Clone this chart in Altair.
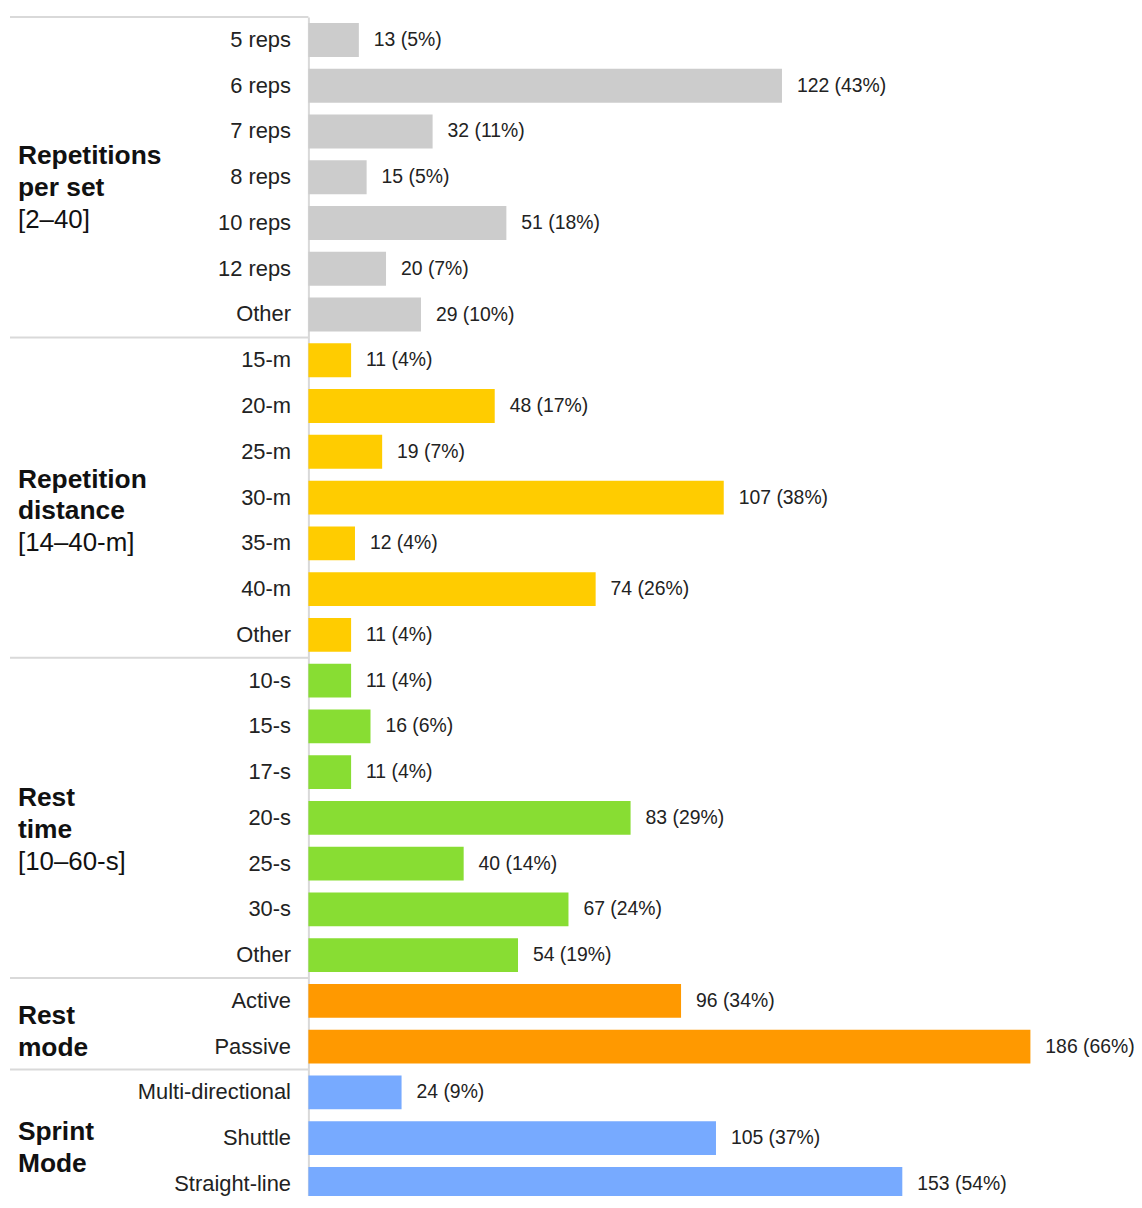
import altair as alt
import pandas as pd

# ---------------- data ----------------
groups = ["Repetitions per set", "Repetition distance", "Rest time", "Rest mode", "Sprint Mode"]
group_title_lines = [["Repetitions", "per set"], ["Repetition", "distance"], ["Rest", "time"],
                     ["Rest", "mode"], ["Sprint", "Mode"]]
group_ranges = ["[2–40]", "[14–40-m]", "[10–60-s]", "", ""]
group_colors = ["#cccccc", "#ffcc00", "#88dd33", "#ff9900", "#77aaff"]

reps_labels = ["5 reps", "6 reps", "7 reps", "8 reps", "10 reps", "12 reps", "Other"]
reps_counts = [13, 122, 32, 15, 51, 20, 29]
reps_pcts = [5, 43, 11, 5, 18, 7, 10]

dist_labels = ["15-m", "20-m", "25-m", "30-m", "35-m", "40-m", "Other"]
dist_counts = [11, 48, 19, 107, 12, 74, 11]
dist_pcts = [4, 17, 7, 38, 4, 26, 4]

rest_labels = ["10-s", "15-s", "17-s", "20-s", "25-s", "30-s", "Other"]
rest_counts = [11, 16, 11, 83, 40, 67, 54]
rest_pcts = [4, 6, 4, 29, 14, 24, 19]

mode_labels = ["Active", "Passive"]
mode_counts = [96, 186]
mode_pcts = [34, 66]

sprint_labels = ["Multi-directional", "Shuttle", "Straight-line"]
sprint_counts = [24, 105, 153]
sprint_pcts = [9, 37, 54]

all_labels = [reps_labels, dist_labels, rest_labels, mode_labels, sprint_labels]
all_counts = [reps_counts, dist_counts, rest_counts, mode_counts, sprint_counts]
all_pcts = [reps_pcts, dist_pcts, rest_pcts, mode_pcts, sprint_pcts]

# layout constants (pixels): vertical nudge of each group's title block
STEP = 46
LINE_H = 32
title_nudge_px = [11, 14, 12, 8, 10]

# ---------------- tables ----------------
rows = []
seps = []
title_rows = []
start = 0
for gi, g in enumerate(groups):
    labs, cnts, pcts = all_labels[gi], all_counts[gi], all_pcts[gi]
    for lab, c, p in zip(labs, cnts, pcts):
        rows.append({"group": g, "key": f"{g}|{lab}", "count": c, "label": f"{c} ({p}%)"})
    n = len(labs)
    seps.append({"pos": start})
    lines = [(t, "bold") for t in group_title_lines[gi]]
    if group_ranges[gi]:
        lines.append((group_ranges[gi], "normal"))
    L = len(lines)
    center = start + n / 2 + title_nudge_px[gi] / STEP
    for j, (t, w) in enumerate(lines):
        title_rows.append({"text": t, "weight": w,
                           "pos": center + (j - (L - 1) / 2) * LINE_H / STEP})
    start += n

N = start
df = pd.DataFrame(rows)
sep_df = pd.DataFrame(seps)
title_df = pd.DataFrame(title_rows)

FONT = "Liberation Sans"
TXT = "#222222"
W, H = 800, STEP * N

# ---------------- bars ----------------
yband = alt.Y(
    "key:N", sort=None,
    scale=alt.Scale(paddingInner=0.26, paddingOuter=0.13),
    axis=alt.Axis(title=None, labelExpr="split(datum.value, '|')[1]", ticks=False,
                  labelPadding=18, labelFont=FONT, labelFontSize=22, labelColor=TXT,
                  domainColor="#d9d9d9", domainWidth=2, grid=False, labelLimit=300),
)
xq = alt.X("count:Q", scale=alt.Scale(domain=[0, 205], nice=False, zero=True), axis=None)

bars = alt.Chart(df).mark_bar().encode(
    x=xq, y=yband,
    color=alt.Color("group:N", scale=alt.Scale(domain=groups, range=group_colors), legend=None),
)
vals = alt.Chart(df).mark_text(align="left", baseline="middle", dx=15, fontSize=19.5,
                               font=FONT, color=TXT).encode(
    x=xq, y=alt.Y("key:N", sort=None), text="label:N"
)

# ---------------- left column layout ----------------
ypos = alt.Y("pos:Q", scale=alt.Scale(domain=[0, N], reverse=True, nice=False, zero=False), axis=None)
rules = alt.Chart(sep_df).mark_rule(color="#d9d9d9", strokeWidth=2).encode(
    y=ypos, x=alt.value(-300), x2=alt.value(0)
)
titles_bold = alt.Chart(title_df).transform_filter(alt.datum.weight == "bold").mark_text(
    align="left", baseline="middle", fontSize=26.5, font=FONT, fontWeight="bold", color="#111111"
).encode(y=ypos, x=alt.value(-292), text="text:N")
titles_reg = alt.Chart(title_df).transform_filter(alt.datum.weight == "normal").mark_text(
    align="left", baseline="middle", fontSize=26, font=FONT, color="#111111"
).encode(y=ypos, x=alt.value(-292), text="text:N")

chart = alt.layer(
    alt.layer(bars, vals),
    alt.layer(rules, titles_bold, titles_reg),
).resolve_scale(y="independent").properties(
    width=W, height=H,
    autosize=alt.AutoSizeParams(type="none"),
    padding={"left": 302, "top": 6, "right": 30, "bottom": -14},
    background="white",
).configure_view(stroke=None)

chart.save("out.html", embed_options={"renderer": "svg", "actions": False})
